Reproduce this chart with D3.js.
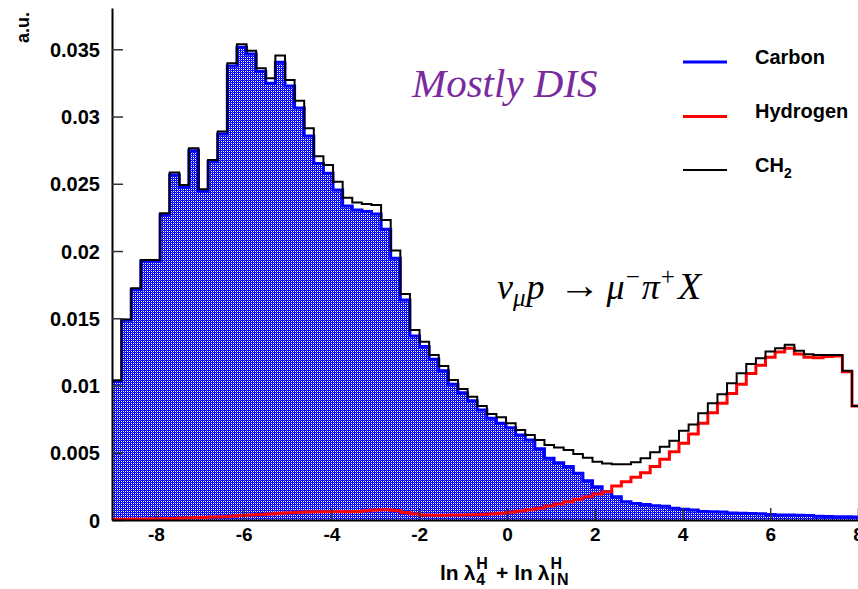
<!DOCTYPE html>
<html>
<head>
<meta charset="utf-8">
<script src="https://cdn.jsdelivr.net/npm/d3@7"></script>
<style>
  html, body { margin: 0; padding: 0; background: #fff; }
  svg { display: block; }
</style>
</head>
<body>
<svg id="chart" width="858" height="589"></svg>
<script>
// Histogram binning along ln λ4 + ln λIN
const binStart = -9;
const binWidth = 0.219;

// Bin contents (a.u.)
const carbon = [0.0103, 0.01485, 0.01712, 0.01925, 0.01925, 0.02268, 0.02565, 0.02473, 0.02746, 0.02442,
  0.02664, 0.0287, 0.03376, 0.03515, 0.03465, 0.03334, 0.03247, 0.03403, 0.03227, 0.03064,
  0.02855, 0.0265, 0.02578, 0.02454, 0.02335, 0.02305, 0.02293, 0.02275, 0.02162, 0.01946,
  0.01636, 0.01368, 0.0129, 0.01195, 0.0111, 0.01009, 0.00947, 0.00887, 0.00818, 0.00756,
  0.00719, 0.00686, 0.00632, 0.00595, 0.0053, 0.00459, 0.00426, 0.00397, 0.00347, 0.00292,
  0.00248, 0.0021, 0.00173, 0.00136, 0.00122, 0.00116, 0.00106, 0.00102, 0.00088, 0.0008,
  0.00074, 0.00064, 0.00062, 0.0006, 0.00052, 0.0005, 0.00049, 0.00047, 0.0004, 0.00038,
  0.00037, 0.00036, 0.00034, 0.00028, 0.00026, 0.00025, 0.00024, 0.00022];

const hydrogen = [0.00005, 0.00006, 0.00007, 0.00008, 0.0001, 0.0001, 0.00012, 0.00014, 0.00016, 0.00019,
  0.00022, 0.00025, 0.00028, 0.00033, 0.00037, 0.0004, 0.00044, 0.0005, 0.00054, 0.00058,
  0.0006, 0.00062, 0.00062, 0.00063, 0.00062, 0.00064, 0.00068, 0.00074, 0.00076, 0.0007,
  0.00055, 0.00045, 0.00038, 0.00036, 0.00036, 0.00037, 0.00038, 0.00039, 0.00041, 0.00045,
  0.0005, 0.00058, 0.00066, 0.00077, 0.00087, 0.00104, 0.00119, 0.00136, 0.00154, 0.00173,
  0.00193, 0.0021, 0.00253, 0.00285, 0.00317, 0.00352, 0.00397, 0.00451, 0.00508, 0.0057,
  0.0064, 0.00719, 0.00798, 0.00868, 0.0094, 0.0101, 0.0109, 0.0115, 0.0121, 0.0125,
  0.01277, 0.01234, 0.0121, 0.01207, 0.01215, 0.0122, 0.01103, 0.00848];

const ch2 = [0.0104, 0.0149, 0.01723, 0.01933, 0.01933, 0.0228, 0.02583, 0.02491, 0.02764, 0.02459,
  0.02677, 0.02888, 0.03396, 0.03537, 0.0349, 0.03359, 0.03284, 0.03453, 0.03272, 0.03118,
  0.02913, 0.02705, 0.0264, 0.02516, 0.02397, 0.0236, 0.0235, 0.02342, 0.02231, 0.02003,
  0.0168, 0.01413, 0.01326, 0.01227, 0.01145, 0.01041, 0.00974, 0.00917, 0.00848, 0.00788,
  0.00764, 0.00719, 0.00669, 0.00632, 0.00595, 0.00558, 0.0054, 0.0052, 0.00491, 0.00463,
  0.00434, 0.00421, 0.00414, 0.00414, 0.00429, 0.00459, 0.00503, 0.00545, 0.0059, 0.00664,
  0.00711, 0.00793, 0.00868, 0.00935, 0.01016, 0.01091, 0.0116, 0.01202, 0.01252, 0.01277,
  0.01304, 0.01259, 0.01232, 0.01227, 0.01227, 0.01227, 0.0111, 0.00848];

const xTickLabels = [-8, -6, -4, -2, 0, 2, 4, 6, 8];
const yTickLabels = [0, 0.005, 0.01, 0.015, 0.02, 0.025, 0.03, 0.035];
const legendNames = ["Carbon", "Hydrogen", "CH"];

const svg = d3.select("#chart");
const plot = { left: 112, right: 858, top: 8, bottom: 520 };

const x = d3.scaleLinear().domain([-9, 8]).range([plot.left, plot.right]);
const y = d3.scaleLinear().domain([0, 0.03807]).range([plot.bottom, plot.top]);

const FONT = "'Liberation Sans', Arial, Helvetica, sans-serif";
const SERIF = "'Liberation Serif', 'Times New Roman', Times, serif";

// fine hatch used by the Carbon fill
const defs = svg.append("defs");
const pat = defs.append("pattern").attr("id", "hatch").attr("patternUnits", "userSpaceOnUse")
  .attr("width", 4).attr("height", 4);
pat.append("rect").attr("width", 4).attr("height", 4).attr("fill", "#0000ff");
[[1, 1, "#ffffff"], [3, 3, "#ffffff"], [1, 3, "#ffffff"], [3, 1, "#ffffff"],
 [0, 0, "#5050ff"], [2, 2, "#5050ff"]].forEach(([px, py, c]) => {
  pat.append("rect").attr("x", px).attr("y", py).attr("width", 1).attr("height", 1).attr("fill", c);
});
defs.append("clipPath").attr("id", "plotclip").append("rect")
  .attr("x", plot.left).attr("y", 0).attr("width", plot.right - plot.left).attr("height", plot.bottom + 2);

// step points: one per bin low edge plus the closing edge
function steps(vals) {
  const pts = vals.map((v, i) => ({ e: binStart + i * binWidth, v }));
  pts.push({ e: binStart + vals.length * binWidth, v: vals[vals.length - 1] });
  return pts;
}
const stepLine = d3.line().curve(d3.curveStepAfter).x(d => x(d.e)).y(d => y(d.v));
const stepArea = d3.area().curve(d3.curveStepAfter).x(d => x(d.e)).y0(y(0)).y1(d => y(d.v));

const g = svg.append("g").attr("clip-path", "url(#plotclip)");

g.append("path").datum(steps(carbon)).attr("d", stepArea).attr("fill", "url(#hatch)");
g.append("path").datum(steps(carbon)).attr("d", stepLine)
  .attr("fill", "none").attr("stroke", "#0000ff").attr("stroke-width", 3);
g.append("path").datum(steps(hydrogen)).attr("d", stepLine)
  .attr("fill", "none").attr("stroke", "#ff0000").attr("stroke-width", 3);
g.append("path").datum(steps(ch2)).attr("d", stepLine)
  .attr("fill", "none").attr("stroke", "#000000").attr("stroke-width", 2);

// axes
const minorY = d3.range(0, 0.0385, 0.001);
const minorX = d3.range(-9, 8.01, 0.5);

const yAxisG = svg.append("g").attr("transform", `translate(${plot.left},0)`);
yAxisG.call(d3.axisLeft(y).tickValues(minorY).tickSize(-6).tickSizeOuter(0).tickFormat(""));
yAxisG.call(d3.axisLeft(y).tickValues(yTickLabels).tickSize(-11).tickSizeOuter(0).tickPadding(12)
  .tickFormat(d => String(d)));

const xAxisG = svg.append("g").attr("transform", `translate(0,${plot.bottom})`);
xAxisG.call(d3.axisBottom(x).tickValues(minorX).tickSize(-6).tickSizeOuter(0).tickFormat(""));
xAxisG.call(d3.axisBottom(x).tickValues(xTickLabels).tickSize(-12).tickSizeOuter(0).tickPadding(8)
  .tickFormat(d => String(d)));

svg.selectAll(".domain").attr("stroke", "#000").attr("stroke-width", 2);
svg.selectAll(".tick line").attr("stroke", "#333").attr("stroke-width", 1.5);
yAxisG.selectAll("text").attr("font-family", FONT).attr("font-weight", "bold")
  .attr("font-size", 20).attr("fill", "#000").attr("dy", "0.36em");
xAxisG.selectAll("text").attr("font-family", FONT).attr("font-weight", "bold")
  .attr("font-size", 19).attr("fill", "#000").attr("dy", "0.71em");

// y title
svg.append("text").attr("transform", "translate(29,12) rotate(-90)")
  .attr("text-anchor", "end").attr("font-family", FONT).attr("font-weight", "bold")
  .attr("font-size", 18).text("a.u.");

// run of text pieces laid out left to right; stacked pieces share one column
function textRun(x0, y0, pieces, baseAttrs) {
  let cx = x0;
  const grp = svg.append("g");
  pieces.forEach(p => {
    const cols = Array.isArray(p) ? p : [p];
    let w = 0;
    cols.forEach(c => {
      const t = grp.append("text").attr("x", cx + (c.dx || 0)).attr("y", y0 + (c.dy || 0))
        .attr("font-size", c.size).text(c.t);
      Object.entries(baseAttrs).forEach(([k, v]) => t.attr(k, v));
      if (c.style) t.attr("font-style", c.style);
      if (c.weight) t.attr("font-weight", c.weight);
      if (c.spacing) t.attr("letter-spacing", c.spacing);
      if (c.len) t.attr("textLength", c.len).attr("lengthAdjust", "spacingAndGlyphs");
      const len = c.len || t.node().getComputedTextLength();
      w = Math.max(w, len + (c.dx || 0) + (c.gap || 0));
    });
    cx += w;
  });
  return cx;
}

// x title: ln λ^H_4 + ln λ^H_IN
textRun(440, 580, [
  { t: "ln", size: 21, gap: 5 },
  { t: "λ", size: 21, gap: 1 },
  [{ t: "H", size: 16, dy: -11 }, { t: "4", size: 16, dy: 5 }],
  { t: "+", size: 21, dx: 8, gap: 6 },
  { t: "ln", size: 21, gap: 5 },
  { t: "λ", size: 21, gap: 1 },
  [{ t: "H", size: 16, dy: -11 }, { t: "IN", size: 16, dy: 5, spacing: 2 }]
], { "font-family": FONT, "font-weight": "bold", "fill": "#000" });

// annotation
svg.append("text").attr("x", 412).attr("y", 97).attr("font-family", SERIF)
  .attr("font-style", "italic").attr("font-size", 41).attr("fill", "#7a2a9e").text("Mostly DIS");

// reaction formula
textRun(497, 299, [
  { t: "ν", size: 36, style: "italic" },
  { t: "μ", size: 25, style: "italic", dy: 7, gap: 1 },
  { t: "p", size: 36, style: "italic", gap: 14 },
  { t: "→", size: 38, len: 42, dy: -1, gap: 6 },
  { t: "μ", size: 36, style: "italic", gap: 1 },
  { t: "−", size: 25, dy: -14, gap: 2 },
  { t: "π", size: 36, style: "italic", gap: 1 },
  { t: "+", size: 25, dy: -14, gap: 3 },
  { t: "X", size: 38, style: "italic" }
], { "font-family": SERIF, "fill": "#000" });

// legend
const legendColors = ["#0000ff", "#ff0000", "#000000"];
const legendWidths = [3, 3, 2];
const legendY = [62, 116.5, 170];
legendNames.forEach((name, i) => {
  svg.append("line").attr("x1", 683).attr("x2", 727).attr("y1", legendY[i]).attr("y2", legendY[i])
    .attr("stroke", legendColors[i]).attr("stroke-width", legendWidths[i]);
  const t = svg.append("text").attr("x", 755).attr("y", legendY[i] + 1.5)
    .attr("font-family", FONT).attr("font-weight", "bold").attr("font-size", 20).text(name);
  if (i === 2) t.append("tspan").attr("font-size", 14).attr("dy", 6).text("2");
});
</script>
</body>
</html>
